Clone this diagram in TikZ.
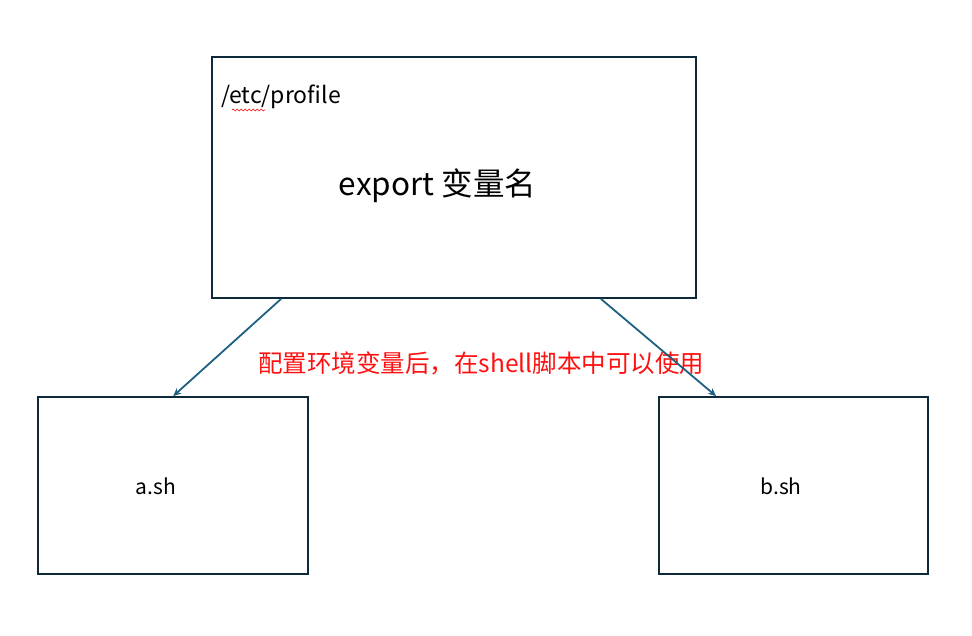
\documentclass[tikz,border=0pt]{standalone}
\usepackage{fontspec}
\setmainfont{Noto Sans CJK SC}
\usetikzlibrary{calc,arrows.meta,decorations.pathmorphing}
\definecolor{boxline}{HTML}{0E2A3A}
\definecolor{arrowc}{HTML}{1F5F82}
\definecolor{redtxt}{HTML}{FF1010}
\tikzset{
  boxnode/.style={draw=boxline,line width=1.7pt,inner sep=0pt},
  conn/.style={draw=arrowc,line width=1.8pt,-{Stealth[length=8pt,width=7pt]}},
  lbl/.style={inner sep=0pt,text=black},
}
\begin{document}
\begin{tikzpicture}[x=1pt,y=-1pt]
\useasboundingbox (0,0) rectangle (972,636);
\node[boxnode,minimum width=484pt,minimum height=241pt] (top) at (454,177.5) {};
\node[boxnode,minimum width=270pt,minimum height=177pt] (a) at (173,485.5) {};
\node[boxnode,minimum width=269pt,minimum height=177pt] (b) at (793.5,485.5) {};
\node[lbl,anchor=base west,font=\fontsize{23}{27}\selectfont] (path) at (221,104) {/etc/profile};
\draw[red,line width=0.6pt,decorate,decoration={snake,amplitude=1pt,segment length=4pt}] ($(path.base west)+(11,6)$) -- ($(path.base west)+(44,6)$);
\node[lbl,font=\fontsize{31.5}{38}\selectfont] (exp) at (437.5,186) {export 变量名};
\node[lbl,font=\fontsize{21}{25}\selectfont] (an) at (156,486) {a.sh};
\node[lbl,font=\fontsize{21}{25}\selectfont] (bn) at (781,486) {b.sh};
\node[lbl,anchor=west,text=redtxt,font=\fontsize{24.5}{29}\selectfont] (note) at (258,363) {配置环境变量后，在shell脚本中可以使用};
\draw[conn] ($(top.south west)+(70,0)$) -- ($(a.north west)+(136,0)$);
\draw[conn] ($(top.south east)+(-96,0)$) -- ($(b.north west)+(58,0)$);
\end{tikzpicture}
\end{document}
